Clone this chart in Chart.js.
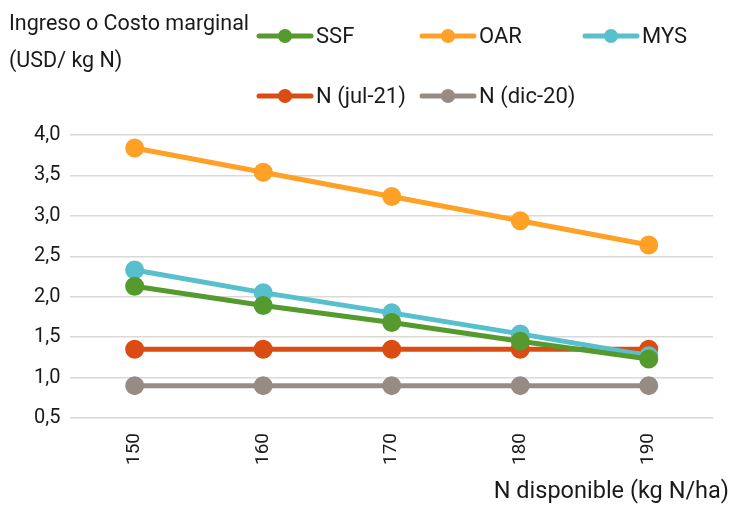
<!DOCTYPE html>
<html>
<head>
<meta charset="utf-8">
<script src="https://cdn.jsdelivr.net/npm/chart.js@4"></script>
<style>
  html, body { margin: 0; padding: 0; background: #ffffff; }
  #wrap { width: 732px; height: 506px; position: relative; }
</style>
</head>
<body>
<div id="wrap"><canvas id="c" width="732" height="506"></canvas></div>
<script>
// N disponible (kg N/ha)
const categories = ['150', '160', '170', '180', '190'];

// Ingreso o costo marginal (USD/kg N)
const ssf = [2.13, 1.89, 1.68, 1.45, 1.23];
const oar = [3.84, 3.54, 3.24, 2.94, 2.64];
const mys = [2.33, 2.05, 1.80, 1.54, 1.27];
const nJul21 = [1.35, 1.35, 1.35, 1.35, 1.35];
const nDic20 = [0.90, 0.90, 0.90, 0.90, 0.90];

const yTicks = { min: 0.5, max: 4.0, step: 0.5 };

const FONT = 'Roboto, sans-serif';
const TEXT = '#1a1a1a';

function series(label, data, color) {
  return {
    label, data,
    borderColor: color, backgroundColor: color,
    pointBackgroundColor: color, pointBorderColor: color,
    borderWidth: 5, pointRadius: 7, pointHoverRadius: 7,
    tension: 0
  };
}

// Axis captions plus a legend laid out on a fixed grid
const gridLegend = {
  id: 'gridLegend',
  afterDraw(chart) {
    const ctx = chart.ctx;
    ctx.save();
    ctx.fillStyle = TEXT;
    ctx.textBaseline = 'middle';
    ctx.textAlign = 'left';
    ctx.font = '21.5px ' + FONT;
    ctx.fillText('Ingreso o Costo marginal', 9, 25);
    ctx.fillText('(USD/ kg N)', 9, 62);

    ctx.font = '23.5px ' + FONT;
    ctx.textAlign = 'right';
    ctx.fillText('N disponible (kg N/ha)', 729, 492);

    ctx.textAlign = 'left';
    ctx.font = '22px ' + FONT;
    const cols = [257, 420, 583];
    const rows = [36, 96];
    chart.data.datasets.forEach((ds, i) => {
      const x = cols[i < 3 ? i : i - 3];
      const y = rows[i < 3 ? 0 : 1];
      ctx.strokeStyle = ds.borderColor;
      ctx.lineWidth = 5;
      ctx.lineCap = 'round';
      ctx.beginPath();
      ctx.moveTo(x + 2, y);
      ctx.lineTo(x + 54, y);
      ctx.stroke();
      ctx.fillStyle = ds.borderColor;
      ctx.beginPath();
      ctx.arc(x + 28, y, 7, 0, Math.PI * 2);
      ctx.fill();
      ctx.fillStyle = TEXT;
      ctx.fillText(ds.label, x + 59, y + 1);
    });
    ctx.restore();
  }
};

new Chart(document.getElementById('c'), {
  type: 'line',
  data: {
    labels: categories,
    datasets: [
      series('SSF', ssf, '#559a2e'),
      series('OAR', oar, '#ffa126'),
      series('MYS', mys, '#58bfcc'),
      series('N (jul-21)', nJul21, '#db4c15'),
      series('N (dic-20)', nDic20, '#978c83')
    ]
  },
  options: {
    responsive: false,
    animation: false,
    layout: { padding: { top: 135, right: 19, left: 24, bottom: 26 } },
    plugins: { legend: { display: false }, tooltip: { enabled: false } },
    scales: {
      x: {
        offset: true,
        grid: { display: false, drawTicks: false },
        border: { display: false },
        ticks: {
          color: TEXT, font: { family: FONT, size: 19 },
          minRotation: 90, maxRotation: 90, padding: 15
        }
      },
      y: {
        min: yTicks.min, max: yTicks.max,
        grid: { color: '#d9d9d9', lineWidth: 1.5, drawTicks: false },
        border: { display: false },
        ticks: {
          stepSize: yTicks.step, color: TEXT, padding: 10,
          font: { family: FONT, size: 20 },
          callback: v => v.toFixed(1).replace('.', ',')
        }
      }
    }
  },
  plugins: [gridLegend]
});
</script>
</body>
</html>
